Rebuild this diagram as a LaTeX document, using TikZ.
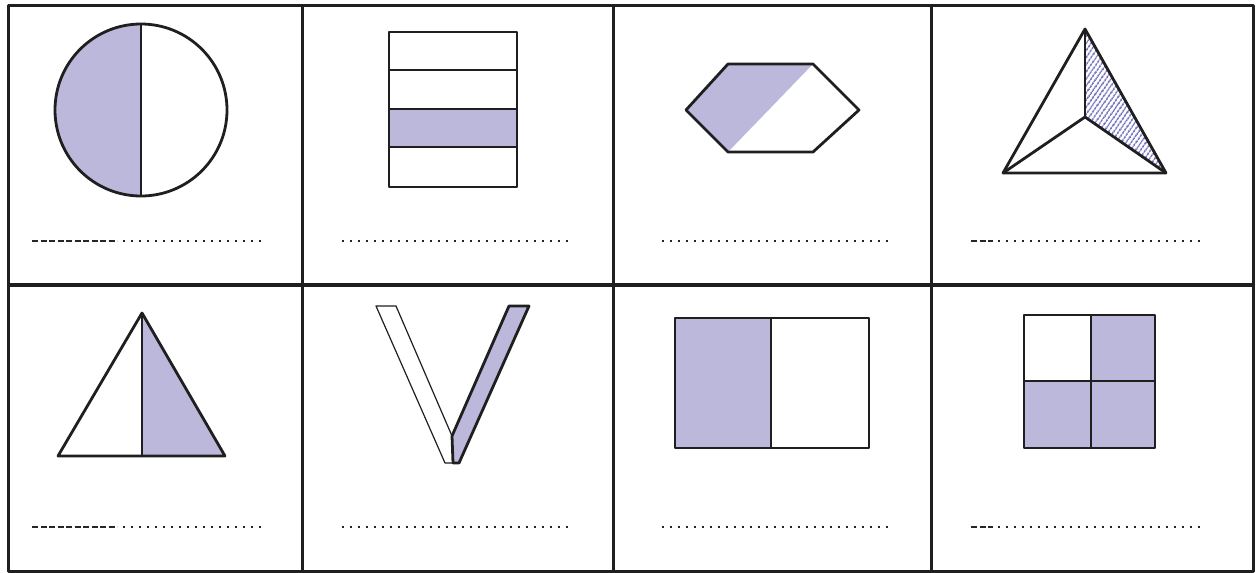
\documentclass[tikz,border=0pt]{standalone}
\usepackage{tikz}
\usetikzlibrary{patterns.meta}
\definecolor{lilac}{HTML}{BBB8DC}
\definecolor{hatchblue}{HTML}{7A79C0}
\begin{document}
\begin{tikzpicture}[x=1pt, y=-1pt, line join=round,
  frame/.style={line width=3pt, draw=black!88},
  fig/.style={line width=2.8pt, draw=black!88},
  part/.style={fill=lilac},
  hatchpart/.style={pattern={Lines[angle=55, distance=4pt, line width=2pt]}, pattern color=hatchblue},
  dashpart/.style={line width=2.6pt, draw=black!85, dash pattern=on 6pt off 2.5pt},
  dotpart/.style={line width=2.4pt, draw=black!85, dash pattern=on 2pt off 6pt},
]
\useasboundingbox (0,0) rectangle (1256,573);
% table
\draw[frame] (8,5) rectangle (1253,571);
\draw[frame, line width=4pt] (8,285) -- (1253,285);
\draw[frame] (302,5) -- (302,571);
\draw[frame] (613,5) -- (613,571);
\draw[frame] (931,5) -- (931,571);
% circle, half
\begin{scope}
  \clip (40,10) rectangle (141,210);
  \fill[part] (141,110) circle[radius=86pt];
\end{scope}
\draw[fig] (141,110) circle[radius=86pt];
\draw[fig] (141,24) -- (141,196);
% strips, one of four
\fill[part] (389,109) rectangle (517,147);
\draw[fig] (389,32) rectangle (517,187);
\draw[fig] (389,70) -- (517,70);
\draw[fig] (389,109) -- (517,109);
\draw[fig] (389,147) -- (517,147);
% hexagon
\fill[part] (728,64) -- (813,64) -- (728,152) -- (686,110) -- cycle;
\draw[fig] (728,64) -- (813,64) -- (859,110) -- (813,152) -- (728,152) -- (686,110) -- cycle;
% triangle, hatched third
\fill[hatchpart] (1085,29) -- (1085,117) -- (1166,173) -- cycle;
\draw[fig] (1085,29) -- (1166,173) -- (1003,173) -- cycle;
\draw[fig] (1085,29) -- (1085,117);
\draw[fig] (1085,117) -- (1003,173);
\draw[fig] (1085,117) -- (1166,173);
% triangle, half
\fill[part] (142,313) -- (225,456) -- (142,456) -- cycle;
\draw[fig] (142,313) -- (225,456) -- (58,456) -- cycle;
\draw[fig] (142,313) -- (142,456);
% V
\draw[line width=1.2pt, draw=black!88] (376,306) -- (396,306) -- (452,436) -- (453,463) -- (445,463) -- cycle;
\draw[fig, part] (509,306) -- (529,306) -- (459,463) -- (453,463) -- (452,436) -- cycle;
% rectangle, half
\fill[part] (675,318) rectangle (771,448);
\draw[fig] (675,318) rectangle (869,448);
\draw[fig] (771,318) -- (771,448);
% square, three quarters
\fill[part] (1091,315) rectangle (1155,381);
\fill[part] (1024,381) rectangle (1155,448);
\draw[fig] (1024,315) rectangle (1155,448);
\draw[fig] (1091,315) -- (1091,448);
\draw[fig] (1024,381) -- (1155,381);
% answer lines
\draw[dashpart] (32,241) -- (117,241);
\draw[dotpart] (123,241) -- (262,241);
\draw[dotpart] (342,241) -- (568,241);
\draw[dotpart] (662,241) -- (888,241);
\draw[dashpart] (971,241) -- (993,241);
\draw[dotpart] (998,241) -- (1200,241);
\draw[dashpart] (32,527) -- (117,527);
\draw[dotpart] (123,527) -- (262,527);
\draw[dotpart] (342,527) -- (568,527);
\draw[dotpart] (662,527) -- (888,527);
\draw[dashpart] (971,527) -- (993,527);
\draw[dotpart] (998,527) -- (1200,527);
\end{tikzpicture}
\end{document}
